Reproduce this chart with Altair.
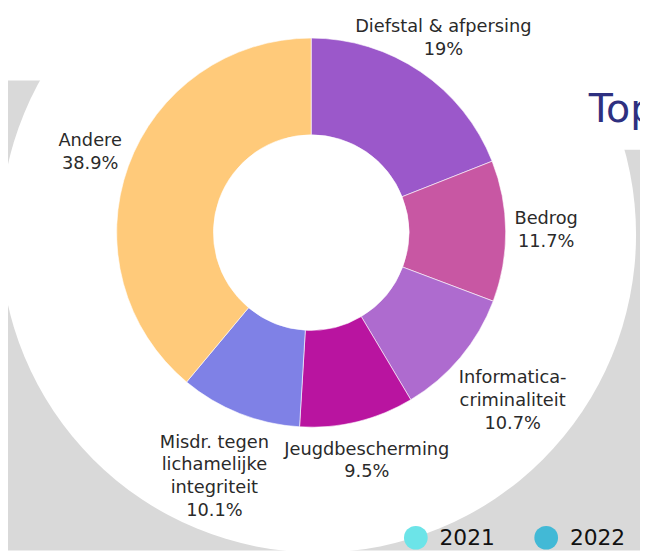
import altair as alt
import pandas as pd

categories = ["Diefstal & afpersing", "Bedrog", "Informatica-criminaliteit",
              "Jeugdbescherming", "Misdr. tegen lichamelijke integriteit", "Andere"]
label_names = ["Diefstal & afpersing", "Bedrog", "Informatica-\ncriminaliteit",
               "Jeugdbescherming", "Misdr. tegen\nlichamelijke\nintegriteit", "Andere"]
values = [19, 11.7, 10.7, 9.5, 10.1, 38.9]
colors = ["#9B58CA", "#C857A3", "#AE6BCF", "#B914A0", "#7F81E6", "#FFCA7A"]

legend_years = ["2021", "2022"]
legend_colors = ["#6CE4E8", "#42B9D6"]
title_text = "Top"

FONT = "DejaVu Sans"
LH = 23

df = pd.DataFrame({
    "cat": categories,
    "idx": list(range(len(categories))),
    "value": values,
    "label": [f"{n}\n{v:g}%" for n, v in zip(label_names, values)],
})

CX, CY = 307, 224
TAU = 6.283185307179586

# background decoration
bg = pd.DataFrame({"k": [0]})
gray_left = alt.Chart(bg).mark_rect(color="#D9D9D9").encode(
    x=alt.value(-8), x2=alt.value(314), y=alt.value(70), y2=alt.value(546))
gray_right = alt.Chart(bg).mark_rect(color="#D9D9D9").encode(
    x=alt.value(314), x2=alt.value(640), y=alt.value(140), y2=alt.value(546))
white_circle = alt.Chart(bg).mark_arc(
    color="white", radius=322, theta=0, theta2=TAU
).encode(x=alt.value(314), y=alt.value(226))

title = alt.Chart(pd.DataFrame({"t": [title_text]})).mark_text(
    font=FONT, fontSize=40, color="#2E3080", align="left", baseline="alphabetic"
).encode(x=alt.value(588), y=alt.value(112), text="t:N")

base = alt.Chart(df).transform_window(
    cum="sum(value)", sort=[alt.SortField("idx", order="ascending")],
    frame=[None, 0]
).transform_joinaggregate(
    total="sum(value)"
).transform_calculate(
    a0=f"{TAU} * (datum.cum - datum.value) / datum.total",
    a1=f"{TAU} * datum.cum / datum.total",
    amid=f"{TAU} * (datum.cum - datum.value / 2) / datum.total",
    lines="length(split(datum.label, '\\n'))",
).transform_calculate(
    r="datum.lines > 2 ? 266 : 238"
).transform_calculate(
    lx=f"{CX} + datum.r * sin(datum.amid)",
    ly=f"{CY} - datum.r * cos(datum.amid) - (datum.lines - 1) * {LH} / 2",
)

arcs = base.mark_arc(radius=197, innerRadius=99, stroke="white", strokeWidth=0.6).encode(
    theta=alt.Theta("a0:Q", scale=None),
    theta2="a1:Q",
    color=alt.Color("cat:N", scale=alt.Scale(domain=categories, range=colors), legend=None),
    x=alt.value(CX), y=alt.value(CY),
)

labels = base.mark_text(
    font=FONT, fontSize=18, color="#2A2A2A", align="center", baseline="middle",
    lineBreak="\n", lineHeight=LH
).encode(
    x=alt.X("lx:Q", scale=None),
    y=alt.Y("ly:Q", scale=None),
    text="label:N",
)

legend_layer = alt.Chart(pd.DataFrame({"year": legend_years})).mark_circle(size=0).encode(
    x=alt.value(-50), y=alt.value(-50),
    fill=alt.Fill("year:N", scale=alt.Scale(domain=legend_years, range=legend_colors),
                  legend=alt.Legend(orient="none", legendX=401, legendY=521,
                                    direction="horizontal", title=None,
                                    symbolType="circle", symbolSize=576,
                                    symbolStrokeWidth=0, symbolOpacity=1,
                                    labelFont=FONT, labelFontSize=22, labelColor="#111111",
                                    labelOffset=12, columnPadding=40, padding=0)),
)

chart = alt.layer(
    gray_left, gray_right, white_circle, title, arcs, labels, legend_layer
).resolve_scale(color="independent").properties(
    width=640, height=546,
    autosize=alt.AutoSizeParams(type="none"),
    padding=0,
).configure_view(stroke=None)

chart.save("out.html", embed_options={"renderer": "svg", "actions": False})
